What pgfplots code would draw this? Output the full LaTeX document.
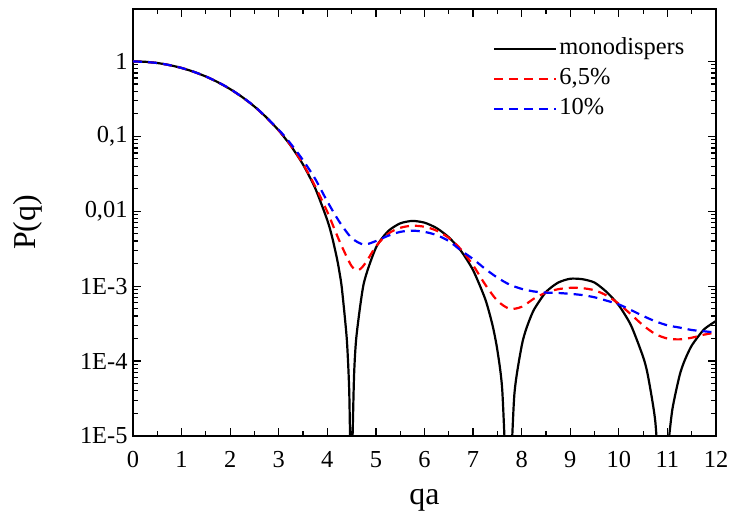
\documentclass[border=0pt]{standalone}
\usepackage{pgfplots}
\pgfplotsset{compat=1.18}
\usepackage{fontspec}
\setmainfont{Liberation Serif}
\usetikzlibrary{calc}

\pgfplotstableread{
x y
0 1
0.25 0.98757
0.5 0.95109
0.75 0.89277
1 0.81632
1.25 0.72628
1.5 0.62781
1.75 0.52622
2 0.42654
2.25 0.33313
2.5 0.24946
2.75 0.17785
3 0.119493
3.25 0.074475
3.5 0.041940
3.75 0.020317
4 0.0075834
4.1 0.0044847
4.2 0.0023122
4.25 0.0015300
4.3 9.2786e-4
4.4 1.9911e-4
4.45 4.1184e-5
4.48 3.828e-6
4.51 5.705e-6
4.55 6.401e-5
4.6 2.1685e-4
4.75 1.0872e-3
5 3.2551e-3
5.25 5.4089e-3
5.5 6.8897e-3
5.75 7.4241e-3
6 7.0383e-3
6.25 5.9545e-3
6.5 4.4882e-3
6.75 2.9603e-3
7 1.6330e-3
7.25 6.726e-4
7.4 3.0179e-4
7.5 1.3964e-4
7.6 4.1413e-5
7.7 1.605e-6
7.75 1.5024e-6
7.85 3.6095e-5
8 1.5920e-4
8.1 2.7593e-4
8.25 4.810e-4
8.5 8.351e-4
8.75 1.1152e-3
9 1.2561e-3
9.25 1.2381e-3
9.5 1.1162e-3
9.75 8.335e-4
10 5.5414e-4
10.25 3.0013e-4
10.5 1.1364e-4
10.6 6.3429e-5
10.75 1.5752e-5
10.85 1.8845e-6
10.95 1.3058e-6
11 5.587e-6
11.1 2.2275e-5
11.25 6.4083e-5
11.35 1.0013e-4
11.5 1.6104e-4
11.75 2.6339e-4
12 3.4269e-4
}\mono

\pgfplotstableread{
x y
0 1
0.5 0.951
1 0.8165
1.5 0.628
2 0.4267
2.5 0.2497
3 0.1198
3.25 0.0750
3.5 0.0427
3.75 0.0215
4.0 0.0098
4.25 0.0040
4.5 0.00185
4.65 0.00165
4.8 0.0021
5.0 0.0034
5.25 0.0050
5.5 0.0060
5.75 0.0064
6.0 0.0062
6.25 0.0055
6.5 0.0044
6.75 0.0031
7.0 0.0019
7.25 0.00105
7.5 0.00064
7.75 0.00050
8.0 0.00053
8.25 0.00068
8.5 0.00082
8.75 0.00091
9.0 0.00095
9.25 0.00094
9.5 0.00088
9.75 0.00075
10.0 0.00058
10.25 0.00042
10.5 0.00030
10.75 0.00023
11.0 0.000200
11.25 0.000195
11.5 0.000205
11.75 0.000225
12 0.00024
}\redd

\pgfplotstableread{
x y
0 1
0.5 0.951
1 0.817
1.5 0.629
2 0.428
2.5 0.251
3 0.122
3.25 0.079
3.5 0.048
3.75 0.027
4.0 0.0135
4.25 0.0072
4.5 0.0044
4.75 0.0036
5.0 0.0040
5.25 0.0047
5.5 0.0053
5.75 0.0055
6.0 0.0053
6.25 0.0048
6.5 0.0040
6.75 0.0030
7.0 0.0023
7.25 0.0017
7.5 0.0013
7.75 0.00105
8.0 0.00092
8.25 0.00085
8.5 0.00082
8.75 0.00081
9.0 0.00079
9.25 0.00076
9.5 0.00071
9.75 0.00064
10.0 0.00057
10.25 0.00048
10.5 0.00040
10.75 0.00034
11.0 0.00030
11.25 0.00028
11.5 0.00026
11.75 0.00025
12 0.00024
}\bluee

\begin{document}
\begin{tikzpicture}
\begin{axis}[
  name=ax,
  scale only axis,
  width=583bp, height=427bp,
  ymode=log,
  xmin=0, xmax=12, ymin=1e-5, ymax=5,
  axis line style={line width=1.6bp},
  every tick/.style={black, line width=1.2bp},
  tick align=inside,
  major tick length=8bp, minor tick length=5bp,
  xtick={0,1,...,12},
  xticklabels={0,1,2,3,4,5,6,7,8,9,10,11,12},
  minor x tick num=1,
  ytick={1e-5,1e-4,1e-3,1e-2,1e-1,1},
  yticklabels={1E-5,1E-4,1E-3,{0,01},{0,1},1},
  tick label style={font=\fontsize{24.5}{28}\selectfont},
  xticklabel style={yshift=-12bp},
  yticklabel style={xshift=-2bp},
  xlabel={qa}, ylabel={P(q)},
  label style={font=\fontsize{32}{36}\selectfont},
  xlabel style={at={(axis description cs:0.5,-0.15)}, anchor=center},
  ylabel style={at={(axis description cs:-0.18,0.5)}, anchor=center},
  legend style={draw=none, fill=none, at={(0.618,0.94)}, anchor=north west,
    inner sep=0pt, outer sep=0pt,
    font=\fontsize{24.5}{28}\selectfont, row sep=2bp,
    nodes={inner sep=2bp, text height=18bp, text depth=6bp}},
  legend cell align=left,
  legend image code/.code={\path (0bp,0bp) -- (62bp,0bp);\draw[#1] (0bp,0bp) -- (57bp,0bp);},
]
\addplot[black, line width=2.2bp, smooth, tension=0.4] table[x=x,y=y]{\mono};
\addlegendentry{monodispers}
\addplot[red, line width=2.2bp, dash pattern=on 9bp off 6bp, smooth] table[x=x,y=y]{\redd};
\addlegendentry{6,5\%}
\addplot[blue, line width=2.2bp, dash pattern=on 9bp off 6bp, smooth] table[x=x,y=y]{\bluee};
\addlegendentry{10\%}
\end{axis}
\pgfresetboundingbox
\path ($(ax.south west)+(-133bp,-90bp)$) rectangle ($(ax.north east)+(13bp,9bp)$);
\end{tikzpicture}
\end{document}
